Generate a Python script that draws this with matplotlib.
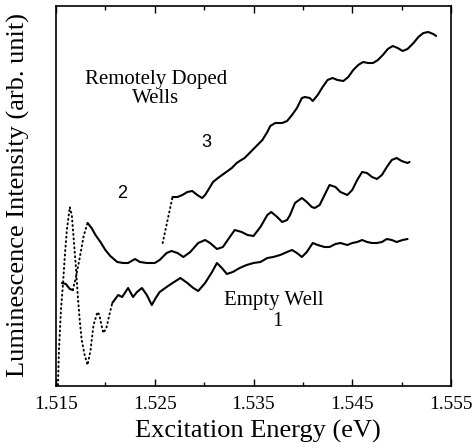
#!/usr/bin/env python3
"""Excitation spectra of remotely doped and empty quantum wells."""

import matplotlib

matplotlib.use("Agg")
import matplotlib.pyplot as plt
from matplotlib.ticker import MultipleLocator


# curve 1 (empty well): steep dotted part near the band edge, then solid
c1_dot_e = [1.5152, 1.5153, 1.5155, 1.5157, 1.5159, 1.5161, 1.5164, 1.5166, 1.5168,
            1.5170, 1.5172, 1.5174, 1.5176, 1.5179, 1.5182, 1.5185, 1.5188, 1.5192,
            1.5194, 1.5196, 1.5198, 1.5201, 1.5204, 1.5207]
c1_dot_i = [1, 36, 76, 101, 131, 156, 179, 171, 146,
            121, 91, 66, 46, 31, 21, 36, 61, 74,
            71, 61, 53, 58, 71, 83]
c1_e = [1.5207, 1.5213, 1.5217, 1.5223, 1.5228, 1.5232, 1.5237, 1.5242, 1.5247,
        1.5251, 1.5255, 1.5262, 1.5268, 1.5276, 1.5283, 1.5289, 1.5294, 1.5301,
        1.5308, 1.5313, 1.5318, 1.5323, 1.5329, 1.5336, 1.5343, 1.5350, 1.5357,
        1.5364, 1.5370, 1.5377, 1.5384, 1.5389, 1.5394, 1.5399, 1.5404, 1.5410,
        1.5415, 1.5422, 1.5427, 1.5433, 1.5438, 1.5445, 1.5450, 1.5455, 1.5460,
        1.5465, 1.5470, 1.5475, 1.5480, 1.5485, 1.5490, 1.5495, 1.5501, 1.5506]
c1_i = [83, 91, 89, 98, 89, 94, 98, 91, 81,
        88, 94, 99, 103, 108, 103, 98, 95, 103,
        114, 123, 118, 112, 114, 118, 121, 123, 124,
        128, 129, 131, 134, 136, 133, 129, 134, 143,
        141, 139, 139, 142, 143, 141, 143, 144, 146,
        144, 143, 143, 144, 147, 146, 144, 146, 147]

# curve 2
c2_a_e = [1.5156, 1.5160, 1.5164, 1.5167]
c2_a_i = [103, 102, 97, 96]
c2_dot_e = [1.5167, 1.5170, 1.5174, 1.5178, 1.5182]
c2_dot_i = [96, 108, 128, 150, 163]
c2_e = [1.5182, 1.5186, 1.5190, 1.5195, 1.5200, 1.5205, 1.5212, 1.5218, 1.5223,
        1.5230, 1.5235, 1.5242, 1.5250, 1.5255, 1.5262, 1.5267, 1.5273, 1.5279,
        1.5286, 1.5294, 1.5301, 1.5306, 1.5313, 1.5319, 1.5326, 1.5331, 1.5338,
        1.5344, 1.5350, 1.5357, 1.5364, 1.5368, 1.5374, 1.5379, 1.5384, 1.5387,
        1.5392, 1.5399, 1.5404, 1.5409, 1.5412, 1.5417, 1.5422, 1.5427, 1.5433,
        1.5438, 1.5445, 1.5450, 1.5455, 1.5460, 1.5465, 1.5470, 1.5475, 1.5480,
        1.5485, 1.5490, 1.5495, 1.5500, 1.5506, 1.5508]
c2_i = [163, 158, 151, 144, 136, 130, 124, 123, 123,
        127, 124, 123, 123, 126, 133, 135, 133, 129,
        134, 143, 146, 143, 137, 139, 149, 156, 154,
        151, 150, 159, 171, 174, 169, 164, 166, 171,
        183, 188, 184, 179, 178, 181, 191, 201, 199,
        194, 191, 196, 206, 214, 213, 209, 207, 211,
        219, 226, 228, 225, 223, 224]

# curve 3
c3_dot_e = [1.5258, 1.5263, 1.5268]
c3_dot_i = [143, 166, 189]
c3_e = [1.5268, 1.5273, 1.5278, 1.5283, 1.5288, 1.5293, 1.5298, 1.5301, 1.5306,
        1.5309, 1.5314, 1.5321, 1.5328, 1.5333, 1.5336, 1.5341, 1.5346, 1.5354,
        1.5359, 1.5364, 1.5367, 1.5372, 1.5379, 1.5384, 1.5389, 1.5394, 1.5399,
        1.5402, 1.5407, 1.5410, 1.5415, 1.5420, 1.5425, 1.5430, 1.5435, 1.5441,
        1.5446, 1.5451, 1.5456, 1.5461, 1.5466, 1.5471, 1.5476, 1.5481, 1.5486,
        1.5491, 1.5496, 1.5501, 1.5506, 1.5512, 1.5517, 1.5522, 1.5527, 1.5532,
        1.5535]
c3_i = [189, 189, 191, 194, 195, 191, 188, 191, 199,
        204, 208, 213, 218, 223, 225, 228, 233, 241,
        246, 254, 260, 263, 263, 265, 271, 278, 288,
        289, 288, 285, 291, 299, 306, 308, 306, 305,
        309, 316, 321, 324, 323, 323, 326, 331, 337,
        340, 338, 335, 337, 343, 349, 353, 354, 352,
        350]

x_ticks = [1.515, 1.525, 1.535, 1.545, 1.555]
x_tick_labels = ["1.515", "1.525", "1.535", "1.545", "1.555"]

SERIF = ["Liberation Serif", "DejaVu Serif"]
SANS = ["Liberation Sans", "DejaVu Sans"]
DOT = (0, (0.5, 1.8))

fig = plt.figure(figsize=(4.72, 4.48), dpi=100)
ax = fig.add_axes([56 / 472, 1 - 386 / 448, 395 / 472, 380 / 448])

solid_kw = dict(color="black", linewidth=1.5, solid_capstyle="round",
                solid_joinstyle="round")
dot_kw = dict(color="black", linewidth=1.4, linestyle=DOT, dash_capstyle="round")

ax.plot(c1_dot_e, c1_dot_i, **dot_kw)
ax.plot(c1_e, c1_i, **solid_kw)
ax.plot(c2_a_e, c2_a_i, **solid_kw)
ax.plot(c2_dot_e, c2_dot_i, **dot_kw)
ax.plot(c2_e, c2_i, **solid_kw)
ax.plot(c3_dot_e, c3_dot_i, **dot_kw)
ax.plot(c3_e, c3_i, **solid_kw)

ax.set_xlim(1.515, 1.555)
ax.set_ylim(0, 380)
ax.set_xticks(x_ticks)
ax.set_xticklabels(x_tick_labels, fontfamily=SERIF, fontsize=14)
ax.xaxis.set_minor_locator(MultipleLocator(0.005))
ax.tick_params(axis="x", which="both", direction="in", top=True, bottom=True, pad=7)
ax.tick_params(axis="x", which="major", length=5, width=1)
ax.tick_params(axis="x", which="minor", length=3, width=1)
ax.set_yticks([])
for s in ax.spines.values():
    s.set_linewidth(1.2)

ax.text(1.5251, 297, "Remotely Doped\nWells", family=SERIF, fontsize=15,
        ha="center", va="center", linespacing=1.0)
ax.text(1.5302, 244, "3", family=SANS, fontsize=13, ha="center", va="center")
ax.text(1.5217, 193, "2", family=SANS, fontsize=13, ha="center", va="center")
ax.text(1.5371, 86, "Empty Well", family=SERIF, fontsize=15, ha="center", va="center")
ax.text(1.5374, 65, "1", family=SERIF, fontsize=15, ha="center", va="center")

fig.text(258 / 472, 1 - 431 / 448, "Excitation Energy (eV)", family=SERIF,
         fontsize=19, ha="center", va="center")
fig.text(18 / 472, 1 - 195 / 448, "Luminescence Intensity (arb. unit)", family=SERIF,
         fontsize=19, ha="center", va="center", rotation=90)

fig.savefig("out.png", dpi=100)
